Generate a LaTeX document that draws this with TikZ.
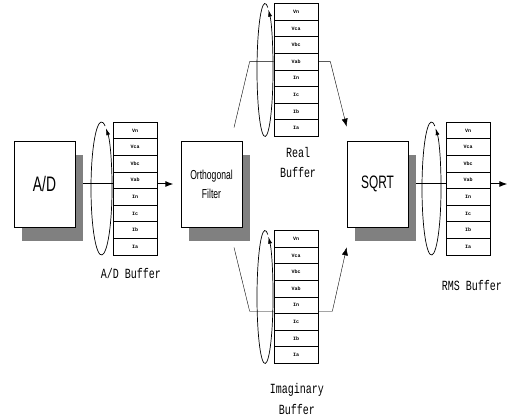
\documentclass[tikz,border=0pt]{standalone}
\usepackage{fontspec}
\setsansfont{Liberation Sans}
\setmonofont{Liberation Mono}
\usetikzlibrary{arrows.meta,positioning,shadows,backgrounds}

\newcommand{\narrow}[1]{\scalebox{0.66}[1]{#1}}

\begin{document}
\begin{tikzpicture}[x=1pt,y=-1pt,line width=0.7pt,>={Latex[length=8pt,width=6pt]},
 stage/.style={draw,fill=white,minimum width=61pt,minimum height=86pt,align=center,inner sep=0pt,
   font=\sffamily,drop shadow={shadow xshift=8pt,shadow yshift=-14pt,fill=black!50,opacity=1}},
 cell/.style={draw,fill=white,minimum width=44pt,minimum height=16.6pt,inner sep=0pt,
   font=\fontsize{5}{6}\selectfont\ttfamily\bfseries},
 ring/.style={-{Latex[length=7pt,width=4pt]}},
 lbl/.style={font=\fontsize{10}{14.5}\selectfont\ttfamily,yscale=1.4,align=center,inner sep=0pt},
 flow/.style={->,line width=1pt}]
\useasboundingbox (0,0) rectangle (509,419);

% processing stages
\node[stage,font=\sffamily\fontsize{21}{21}\selectfont] (ad) at (44.5,184) {\narrow{A/D}};
\node[stage,font=\sffamily\fontsize{13}{19}\selectfont] (orth) at (211.5,184) {\narrow{Orthogonal}\\\narrow{Filter}};
\node[stage,font=\sffamily\fontsize{18}{18}\selectfont] (sqrt) at (377.5,184) {\narrow{SQRT}};

% buffers with their circular pointers
\foreach \b/\x/\y/\rx/\ex in {adb/135/188.5/10.5/33.5, real/296/70/8/31,
                              imag/296/297/8/31, rms/468/188.5/9.5/36.5}{
  \foreach \val [count=\i] in {Vn,Vca,Vbc,Vab,In,Ic,Ib,Ia}
    \node[cell] (\b\i) at (\x,{\y+(\i-4.5)*16.6}) {\val};
  \draw[ring] ({\x-\ex+\rx*cos(70)},{\y-66.5*sin(70)})
    arc[start angle=-70,end angle=-425,x radius=\rx,y radius=66.5];
}

\node[lbl] (adlbl) at (131,273) {A/D Buffer};
\node[lbl] (reallbl) at (298,162.5) {Real\\Buffer};
\node[lbl] (imaglbl) at (297,399) {Imaginary\\Buffer};
\node[lbl] (rmslbl) at (472,285) {RMS Buffer};

\begin{scope}[on background layer]
\draw[flow] (ad.east) -- ([xshift=16pt]ad.east -| adb4.east);
\draw[flow] (sqrt.east) -- ([xshift=17pt]sqrt.east -| rms4.east);
% real part
\draw ([xshift=22.5pt,yshift=13pt]orth.north) -- ([xshift=-24pt]real4.west) -- (real4.west);
\draw[->] (real4.east) -- ([xshift=12pt]real4.east) -- ([yshift=14pt]sqrt.north west);
% imaginary part
\draw ([xshift=22.5pt,yshift=-20pt]orth.south) -- ([xshift=-24pt,yshift=-6pt]imag5.west) -- ([yshift=-6pt]imag5.west);
\draw[->] ([yshift=-6pt]imag5.east) -- ([xshift=14pt,yshift=-6pt]imag5.east) -- ([yshift=-20pt]sqrt.south west);
\end{scope}
\end{tikzpicture}
\end{document}
